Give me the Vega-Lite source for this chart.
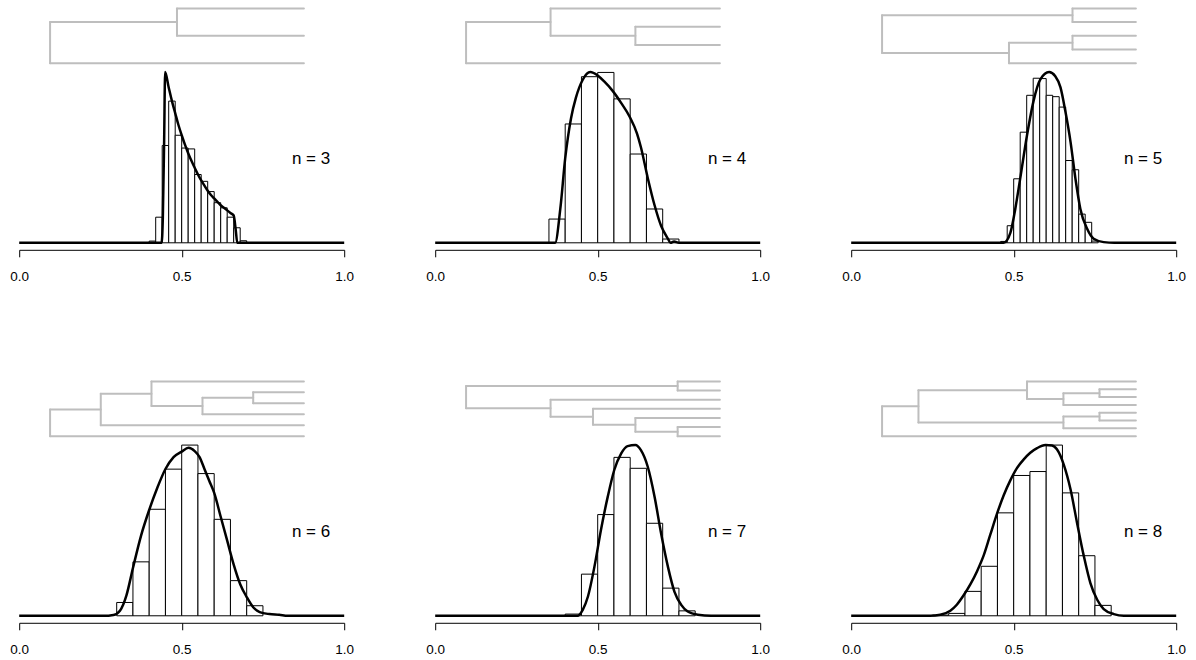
{
"$schema": "https://vega.github.io/schema/vega-lite/v6.json",
"usermeta": {"embedOptions": {"actions": false}},
"padding": {"left": 9.2, "top": 3.8, "right": 5, "bottom": 5},
"background": "white",
"columns": 3,
"spacing": {"row": 134, "column": 91},
"bounds": "flush",
"datasets": {
"bars": [
{"n":3,"x0":0.40,"x1":0.42,"h":0.01},{"n":3,"x0":0.42,"x1":0.44,"h":0.15},{"n":3,"x0":0.44,"x1":0.46,"h":0.57},{"n":3,"x0":0.46,"x1":0.48,"h":0.83},{"n":3,"x0":0.48,"x1":0.50,"h":0.63},{"n":3,"x0":0.50,"x1":0.52,"h":0.555},{"n":3,"x0":0.52,"x1":0.54,"h":0.55},{"n":3,"x0":0.54,"x1":0.56,"h":0.40},{"n":3,"x0":0.56,"x1":0.58,"h":0.36},{"n":3,"x0":0.58,"x1":0.60,"h":0.30},{"n":3,"x0":0.60,"x1":0.62,"h":0.235},{"n":3,"x0":0.62,"x1":0.64,"h":0.205},{"n":3,"x0":0.64,"x1":0.66,"h":0.15},{"n":3,"x0":0.66,"x1":0.68,"h":0.088},{"n":3,"x0":0.68,"x1":0.70,"h":0.012},
{"n":4,"x0":0.35,"x1":0.40,"h":0.139},{"n":4,"x0":0.40,"x1":0.45,"h":0.696},{"n":4,"x0":0.45,"x1":0.50,"h":0.973},{"n":4,"x0":0.50,"x1":0.55,"h":0.998},{"n":4,"x0":0.55,"x1":0.60,"h":0.843},{"n":4,"x0":0.60,"x1":0.65,"h":0.52},{"n":4,"x0":0.65,"x1":0.70,"h":0.198},{"n":4,"x0":0.70,"x1":0.75,"h":0.022},
{"n":5,"x0":0.46,"x1":0.48,"h":0.008},{"n":5,"x0":0.48,"x1":0.50,"h":0.10},{"n":5,"x0":0.50,"x1":0.52,"h":0.375},{"n":5,"x0":0.52,"x1":0.54,"h":0.648},{"n":5,"x0":0.54,"x1":0.56,"h":0.864},{"n":5,"x0":0.56,"x1":0.58,"h":0.964},{"n":5,"x0":0.58,"x1":0.60,"h":0.962},{"n":5,"x0":0.60,"x1":0.62,"h":0.864},{"n":5,"x0":0.62,"x1":0.64,"h":0.856},{"n":5,"x0":0.64,"x1":0.66,"h":0.795},{"n":5,"x0":0.66,"x1":0.68,"h":0.482},{"n":5,"x0":0.68,"x1":0.70,"h":0.428},{"n":5,"x0":0.70,"x1":0.72,"h":0.168},{"n":5,"x0":0.72,"x1":0.74,"h":0.12},{"n":5,"x0":0.74,"x1":0.76,"h":0.01},
{"n":6,"x0":0.30,"x1":0.35,"h":0.078},{"n":6,"x0":0.35,"x1":0.40,"h":0.316},{"n":6,"x0":0.40,"x1":0.45,"h":0.624},{"n":6,"x0":0.45,"x1":0.50,"h":0.859},{"n":6,"x0":0.50,"x1":0.55,"h":1.0},{"n":6,"x0":0.55,"x1":0.60,"h":0.833},{"n":6,"x0":0.60,"x1":0.65,"h":0.565},{"n":6,"x0":0.65,"x1":0.70,"h":0.206},{"n":6,"x0":0.70,"x1":0.75,"h":0.059},
{"n":7,"x0":0.40,"x1":0.45,"h":0.01},{"n":7,"x0":0.45,"x1":0.50,"h":0.244},{"n":7,"x0":0.50,"x1":0.55,"h":0.593},{"n":7,"x0":0.55,"x1":0.60,"h":0.928},{"n":7,"x0":0.60,"x1":0.65,"h":0.864},{"n":7,"x0":0.65,"x1":0.70,"h":0.542},{"n":7,"x0":0.70,"x1":0.75,"h":0.162},{"n":7,"x0":0.75,"x1":0.80,"h":0.029},
{"n":8,"x0":0.25,"x1":0.30,"h":0.004},{"n":8,"x0":0.30,"x1":0.35,"h":0.014},{"n":8,"x0":0.35,"x1":0.40,"h":0.143},{"n":8,"x0":0.40,"x1":0.45,"h":0.29},{"n":8,"x0":0.45,"x1":0.50,"h":0.603},{"n":8,"x0":0.50,"x1":0.55,"h":0.822},{"n":8,"x0":0.55,"x1":0.60,"h":0.845},{"n":8,"x0":0.60,"x1":0.65,"h":1.0},{"n":8,"x0":0.65,"x1":0.70,"h":0.72},{"n":8,"x0":0.70,"x1":0.75,"h":0.352},{"n":8,"x0":0.75,"x1":0.80,"h":0.061}
],
"dens": [
{"n":3,"x":0,"y":0},{"n":3,"x":0.438,"y":0},{"n":3,"x":0.442,"y":0.15},{"n":3,"x":0.446,"y":0.6},{"n":3,"x":0.449,"y":1.0},{"n":3,"x":0.46,"y":0.91},{"n":3,"x":0.47,"y":0.83},{"n":3,"x":0.48,"y":0.76},{"n":3,"x":0.49,"y":0.69},{"n":3,"x":0.50,"y":0.63},{"n":3,"x":0.51,"y":0.575},{"n":3,"x":0.52,"y":0.525},{"n":3,"x":0.53,"y":0.48},{"n":3,"x":0.54,"y":0.44},{"n":3,"x":0.55,"y":0.40},{"n":3,"x":0.56,"y":0.365},{"n":3,"x":0.57,"y":0.335},{"n":3,"x":0.58,"y":0.305},{"n":3,"x":0.59,"y":0.28},{"n":3,"x":0.60,"y":0.26},{"n":3,"x":0.61,"y":0.24},{"n":3,"x":0.62,"y":0.22},{"n":3,"x":0.63,"y":0.205},{"n":3,"x":0.64,"y":0.19},{"n":3,"x":0.65,"y":0.175},{"n":3,"x":0.66,"y":0.16},{"n":3,"x":0.666,"y":0.08},{"n":3,"x":0.671,"y":0},{"n":3,"x":1,"y":0},
{"n":4,"x":0,"y":0},{"n":4,"x":0.369,"y":0},{"n":4,"x":0.385,"y":0.2},{"n":4,"x":0.40,"y":0.494},{"n":4,"x":0.418,"y":0.73},{"n":4,"x":0.433,"y":0.85},{"n":4,"x":0.454,"y":0.955},{"n":4,"x":0.477,"y":1.0},{"n":4,"x":0.50,"y":0.98},{"n":4,"x":0.52,"y":0.945},{"n":4,"x":0.546,"y":0.89},{"n":4,"x":0.572,"y":0.82},{"n":4,"x":0.598,"y":0.74},{"n":4,"x":0.621,"y":0.64},{"n":4,"x":0.633,"y":0.56},{"n":4,"x":0.654,"y":0.38},{"n":4,"x":0.675,"y":0.22},{"n":4,"x":0.695,"y":0.10},{"n":4,"x":0.716,"y":0.024},{"n":4,"x":0.724,"y":0},{"n":4,"x":0.735,"y":0.008},{"n":4,"x":0.75,"y":0},{"n":4,"x":1,"y":0},
{"n":5,"x":0,"y":0},{"n":5,"x":0.469,"y":0},{"n":5,"x":0.49,"y":0.06},{"n":5,"x":0.505,"y":0.2},{"n":5,"x":0.52,"y":0.376},{"n":5,"x":0.541,"y":0.63},{"n":5,"x":0.561,"y":0.83},{"n":5,"x":0.582,"y":0.957},{"n":5,"x":0.609,"y":1.0},{"n":5,"x":0.628,"y":0.976},{"n":5,"x":0.644,"y":0.91},{"n":5,"x":0.659,"y":0.77},{"n":5,"x":0.675,"y":0.59},{"n":5,"x":0.69,"y":0.376},{"n":5,"x":0.705,"y":0.2},{"n":5,"x":0.726,"y":0.082},{"n":5,"x":0.746,"y":0.024},{"n":5,"x":0.777,"y":0.004},{"n":5,"x":0.81,"y":0},{"n":5,"x":1,"y":0},
{"n":6,"x":0,"y":0},{"n":6,"x":0.26,"y":0},{"n":6,"x":0.29,"y":0.005},{"n":6,"x":0.31,"y":0.03},{"n":6,"x":0.33,"y":0.12},{"n":6,"x":0.35,"y":0.28},{"n":6,"x":0.375,"y":0.47},{"n":6,"x":0.40,"y":0.62},{"n":6,"x":0.425,"y":0.75},{"n":6,"x":0.45,"y":0.86},{"n":6,"x":0.475,"y":0.93},{"n":6,"x":0.50,"y":0.962},{"n":6,"x":0.521,"y":0.984},{"n":6,"x":0.54,"y":0.965},{"n":6,"x":0.555,"y":0.93},{"n":6,"x":0.57,"y":0.86},{"n":6,"x":0.585,"y":0.79},{"n":6,"x":0.60,"y":0.72},{"n":6,"x":0.62,"y":0.58},{"n":6,"x":0.64,"y":0.44},{"n":6,"x":0.66,"y":0.30},{"n":6,"x":0.68,"y":0.185},{"n":6,"x":0.70,"y":0.11},{"n":6,"x":0.72,"y":0.05},{"n":6,"x":0.74,"y":0.022},{"n":6,"x":0.77,"y":0.01},{"n":6,"x":0.80,"y":0.006},{"n":6,"x":0.826,"y":0},{"n":6,"x":1,"y":0},
{"n":7,"x":0,"y":0},{"n":7,"x":0.438,"y":0},{"n":7,"x":0.454,"y":0.035},{"n":7,"x":0.47,"y":0.113},{"n":7,"x":0.49,"y":0.288},{"n":7,"x":0.51,"y":0.503},{"n":7,"x":0.531,"y":0.698},{"n":7,"x":0.551,"y":0.854},{"n":7,"x":0.572,"y":0.95},{"n":7,"x":0.592,"y":0.994},{"n":7,"x":0.616,"y":1.0},{"n":7,"x":0.633,"y":0.97},{"n":7,"x":0.654,"y":0.873},{"n":7,"x":0.675,"y":0.698},{"n":7,"x":0.695,"y":0.483},{"n":7,"x":0.716,"y":0.288},{"n":7,"x":0.736,"y":0.142},{"n":7,"x":0.757,"y":0.064},{"n":7,"x":0.777,"y":0.025},{"n":7,"x":0.808,"y":0.006},{"n":7,"x":0.849,"y":0},{"n":7,"x":1,"y":0},
{"n":8,"x":0,"y":0},{"n":8,"x":0.243,"y":0},{"n":8,"x":0.274,"y":0.006},{"n":8,"x":0.305,"y":0.03},{"n":8,"x":0.325,"y":0.065},{"n":8,"x":0.346,"y":0.12},{"n":8,"x":0.367,"y":0.185},{"n":8,"x":0.387,"y":0.26},{"n":8,"x":0.408,"y":0.355},{"n":8,"x":0.428,"y":0.475},{"n":8,"x":0.449,"y":0.6},{"n":8,"x":0.469,"y":0.705},{"n":8,"x":0.49,"y":0.795},{"n":8,"x":0.51,"y":0.865},{"n":8,"x":0.531,"y":0.916},{"n":8,"x":0.551,"y":0.955},{"n":8,"x":0.572,"y":0.982},{"n":8,"x":0.598,"y":1.0},{"n":8,"x":0.618,"y":0.998},{"n":8,"x":0.633,"y":0.975},{"n":8,"x":0.654,"y":0.886},{"n":8,"x":0.675,"y":0.74},{"n":8,"x":0.695,"y":0.544},{"n":8,"x":0.716,"y":0.348},{"n":8,"x":0.736,"y":0.192},{"n":8,"x":0.757,"y":0.094},{"n":8,"x":0.777,"y":0.039},{"n":8,"x":0.808,"y":0.01},{"n":8,"x":0.839,"y":0},{"n":8,"x":1,"y":0}
],
"tree": [
{"n":3,"x":0.4855,"x2":0.4855,"y":1.373,"y2":1.2125},{"n":3,"x":0.4855,"x2":0.876,"y":1.373,"y2":1.373},{"n":3,"x":0.4855,"x2":0.876,"y":1.2125,"y2":1.2125},{"n":3,"x":0.095,"x2":0.095,"y":1.29275,"y2":1.052},{"n":3,"x":0.095,"x2":0.4855,"y":1.29275,"y2":1.29275},{"n":3,"x":0.095,"x2":0.876,"y":1.052,"y2":1.052},
{"n":4,"x":0.616,"x2":0.616,"y":1.266,"y2":1.159},{"n":4,"x":0.616,"x2":0.876,"y":1.266,"y2":1.266},{"n":4,"x":0.616,"x2":0.876,"y":1.159,"y2":1.159},{"n":4,"x":0.355,"x2":0.355,"y":1.373,"y2":1.2125},{"n":4,"x":0.355,"x2":0.876,"y":1.373,"y2":1.373},{"n":4,"x":0.355,"x2":0.616,"y":1.2125,"y2":1.2125},{"n":4,"x":0.095,"x2":0.095,"y":1.29275,"y2":1.052},{"n":4,"x":0.095,"x2":0.355,"y":1.29275,"y2":1.29275},{"n":4,"x":0.095,"x2":0.876,"y":1.052,"y2":1.052},
{"n":5,"x":0.681,"x2":0.681,"y":1.373,"y2":1.293},{"n":5,"x":0.681,"x2":0.876,"y":1.373,"y2":1.373},{"n":5,"x":0.681,"x2":0.876,"y":1.293,"y2":1.293},{"n":5,"x":0.681,"x2":0.681,"y":1.2125,"y2":1.132},{"n":5,"x":0.681,"x2":0.876,"y":1.2125,"y2":1.2125},{"n":5,"x":0.681,"x2":0.876,"y":1.132,"y2":1.132},{"n":5,"x":0.4855,"x2":0.4855,"y":1.17225,"y2":1.052},{"n":5,"x":0.4855,"x2":0.681,"y":1.17225,"y2":1.17225},{"n":5,"x":0.4855,"x2":0.876,"y":1.052,"y2":1.052},{"n":5,"x":0.095,"x2":0.095,"y":1.333,"y2":1.1121},{"n":5,"x":0.095,"x2":0.681,"y":1.333,"y2":1.333},{"n":5,"x":0.095,"x2":0.4855,"y":1.1121,"y2":1.1121},
{"n":6,"x":0.72,"x2":0.72,"y":1.309,"y2":1.245},{"n":6,"x":0.72,"x2":0.876,"y":1.309,"y2":1.309},{"n":6,"x":0.72,"x2":0.876,"y":1.245,"y2":1.245},{"n":6,"x":0.564,"x2":0.564,"y":1.277,"y2":1.18},{"n":6,"x":0.564,"x2":0.72,"y":1.277,"y2":1.277},{"n":6,"x":0.564,"x2":0.876,"y":1.18,"y2":1.18},{"n":6,"x":0.407,"x2":0.407,"y":1.373,"y2":1.2285},{"n":6,"x":0.407,"x2":0.876,"y":1.373,"y2":1.373},{"n":6,"x":0.407,"x2":0.564,"y":1.2285,"y2":1.2285},{"n":6,"x":0.251,"x2":0.251,"y":1.30075,"y2":1.116},{"n":6,"x":0.251,"x2":0.407,"y":1.30075,"y2":1.30075},{"n":6,"x":0.251,"x2":0.876,"y":1.116,"y2":1.116},{"n":6,"x":0.095,"x2":0.095,"y":1.20838,"y2":1.052},{"n":6,"x":0.095,"x2":0.251,"y":1.20838,"y2":1.20838},{"n":6,"x":0.095,"x2":0.876,"y":1.052,"y2":1.052},
{"n":7,"x":0.746,"x2":0.746,"y":1.373,"y2":1.3195},{"n":7,"x":0.746,"x2":0.876,"y":1.373,"y2":1.373},{"n":7,"x":0.746,"x2":0.876,"y":1.3195,"y2":1.3195},{"n":7,"x":0.746,"x2":0.746,"y":1.1055,"y2":1.052},{"n":7,"x":0.746,"x2":0.876,"y":1.1055,"y2":1.1055},{"n":7,"x":0.746,"x2":0.876,"y":1.052,"y2":1.052},{"n":7,"x":0.616,"x2":0.616,"y":1.159,"y2":1.07875},{"n":7,"x":0.616,"x2":0.876,"y":1.159,"y2":1.159},{"n":7,"x":0.616,"x2":0.746,"y":1.07875,"y2":1.07875},{"n":7,"x":0.4855,"x2":0.4855,"y":1.2125,"y2":1.11888},{"n":7,"x":0.4855,"x2":0.876,"y":1.2125,"y2":1.2125},{"n":7,"x":0.4855,"x2":0.616,"y":1.11888,"y2":1.11888},{"n":7,"x":0.355,"x2":0.355,"y":1.266,"y2":1.16569},{"n":7,"x":0.355,"x2":0.876,"y":1.266,"y2":1.266},{"n":7,"x":0.355,"x2":0.4855,"y":1.16569,"y2":1.16569},{"n":7,"x":0.095,"x2":0.095,"y":1.34625,"y2":1.21585},{"n":7,"x":0.095,"x2":0.746,"y":1.34625,"y2":1.34625},{"n":7,"x":0.095,"x2":0.355,"y":1.21585,"y2":1.21585},
{"n":8,"x":0.764,"x2":0.764,"y":1.327,"y2":1.281},{"n":8,"x":0.764,"x2":0.876,"y":1.327,"y2":1.327},{"n":8,"x":0.764,"x2":0.876,"y":1.281,"y2":1.281},{"n":8,"x":0.764,"x2":0.764,"y":1.19,"y2":1.144},{"n":8,"x":0.764,"x2":0.876,"y":1.19,"y2":1.19},{"n":8,"x":0.764,"x2":0.876,"y":1.144,"y2":1.144},{"n":8,"x":0.653,"x2":0.653,"y":1.304,"y2":1.235},{"n":8,"x":0.653,"x2":0.764,"y":1.304,"y2":1.304},{"n":8,"x":0.653,"x2":0.876,"y":1.235,"y2":1.235},{"n":8,"x":0.653,"x2":0.653,"y":1.167,"y2":1.098},{"n":8,"x":0.653,"x2":0.764,"y":1.167,"y2":1.167},{"n":8,"x":0.653,"x2":0.876,"y":1.098,"y2":1.098},{"n":8,"x":0.541,"x2":0.541,"y":1.373,"y2":1.2695},{"n":8,"x":0.541,"x2":0.876,"y":1.373,"y2":1.373},{"n":8,"x":0.541,"x2":0.653,"y":1.2695,"y2":1.2695},{"n":8,"x":0.207,"x2":0.207,"y":1.32125,"y2":1.1325},{"n":8,"x":0.207,"x2":0.541,"y":1.32125,"y2":1.32125},{"n":8,"x":0.207,"x2":0.653,"y":1.1325,"y2":1.1325},{"n":8,"x":0.095,"x2":0.095,"y":1.22688,"y2":1.052},{"n":8,"x":0.095,"x2":0.207,"y":1.22688,"y2":1.22688},{"n":8,"x":0.095,"x2":0.876,"y":1.052,"y2":1.052}
],
"labels": [
{"n":3,"label":"n = 3","x":0.898,"y":0.49},{"n":4,"label":"n = 4","x":0.898,"y":0.49},{"n":5,"label":"n = 5","x":0.898,"y":0.49},{"n":6,"label":"n = 6","x":0.898,"y":0.49},{"n":7,"label":"n = 7","x":0.898,"y":0.49},{"n":8,"label":"n = 8","x":0.898,"y":0.49}
]
},
"concat": [
{"width":325,"height":239,"layer":[
{"data":{"name":"tree"},"transform":[{"filter":"datum.n == 3"}],"mark":{"type":"rule","color":"#bebebe","strokeWidth":2,"strokeCap":"round"},"encoding":{"x":{"field":"x","type":"quantitative","title":null,"scale":{"domain":[0,1],"nice":false,"zero":false},"axis":{"values":[0,0.5,1],"format":".1f","title":null}},"x2":{"field":"x2"},"y":{"field":"y","type":"quantitative","axis":null,"scale":{"domain":[0,1.4],"nice":false}},"y2":{"field":"y2"}}},
{"data":{"name":"bars"},"transform":[{"filter":"datum.n == 3"}],"mark":{"type":"rect","fill":"white","stroke":"black","strokeWidth":1},"encoding":{"x":{"field":"x0","type":"quantitative","title":null,"scale":{"domain":[0,1],"nice":false,"zero":false},"axis":{"values":[0,0.5,1],"format":".1f","title":null}},"x2":{"field":"x1"},"y":{"field":"h","type":"quantitative","axis":null,"scale":{"domain":[0,1.4],"nice":false}},"y2":{"datum":0}}},
{"data":{"name":"dens"},"transform":[{"filter":"datum.n == 3"}],"mark":{"type":"line","color":"black","strokeWidth":2.5,"interpolate":"monotone"},"encoding":{"x":{"field":"x","type":"quantitative","title":null,"scale":{"domain":[0,1],"nice":false,"zero":false},"axis":{"values":[0,0.5,1],"format":".1f","title":null}},"y":{"field":"y","type":"quantitative","axis":null,"scale":{"domain":[0,1.4],"nice":false}}}},
{"data":{"name":"labels"},"transform":[{"filter":"datum.n == 3"}],"mark":{"type":"text","font":"Liberation Sans","fontSize":17,"align":"center","baseline":"middle","color":"black"},"encoding":{"x":{"field":"x","type":"quantitative","title":null,"scale":{"domain":[0,1],"nice":false,"zero":false},"axis":{"values":[0,0.5,1],"format":".1f","title":null}},"y":{"field":"y","type":"quantitative","axis":null,"scale":{"domain":[0,1.4],"nice":false}},"text":{"field":"label"}}}
]},
{"width":325,"height":239,"layer":[
{"data":{"name":"tree"},"transform":[{"filter":"datum.n == 4"}],"mark":{"type":"rule","color":"#bebebe","strokeWidth":2,"strokeCap":"round"},"encoding":{"x":{"field":"x","type":"quantitative","title":null,"scale":{"domain":[0,1],"nice":false,"zero":false},"axis":{"values":[0,0.5,1],"format":".1f","title":null}},"x2":{"field":"x2"},"y":{"field":"y","type":"quantitative","axis":null,"scale":{"domain":[0,1.4],"nice":false}},"y2":{"field":"y2"}}},
{"data":{"name":"bars"},"transform":[{"filter":"datum.n == 4"}],"mark":{"type":"rect","fill":"white","stroke":"black","strokeWidth":1},"encoding":{"x":{"field":"x0","type":"quantitative","title":null,"scale":{"domain":[0,1],"nice":false,"zero":false},"axis":{"values":[0,0.5,1],"format":".1f","title":null}},"x2":{"field":"x1"},"y":{"field":"h","type":"quantitative","axis":null,"scale":{"domain":[0,1.4],"nice":false}},"y2":{"datum":0}}},
{"data":{"name":"dens"},"transform":[{"filter":"datum.n == 4"}],"mark":{"type":"line","color":"black","strokeWidth":2.5,"interpolate":"monotone"},"encoding":{"x":{"field":"x","type":"quantitative","title":null,"scale":{"domain":[0,1],"nice":false,"zero":false},"axis":{"values":[0,0.5,1],"format":".1f","title":null}},"y":{"field":"y","type":"quantitative","axis":null,"scale":{"domain":[0,1.4],"nice":false}}}},
{"data":{"name":"labels"},"transform":[{"filter":"datum.n == 4"}],"mark":{"type":"text","font":"Liberation Sans","fontSize":17,"align":"center","baseline":"middle","color":"black"},"encoding":{"x":{"field":"x","type":"quantitative","title":null,"scale":{"domain":[0,1],"nice":false,"zero":false},"axis":{"values":[0,0.5,1],"format":".1f","title":null}},"y":{"field":"y","type":"quantitative","axis":null,"scale":{"domain":[0,1.4],"nice":false}},"text":{"field":"label"}}}
]},
{"width":325,"height":239,"layer":[
{"data":{"name":"tree"},"transform":[{"filter":"datum.n == 5"}],"mark":{"type":"rule","color":"#bebebe","strokeWidth":2,"strokeCap":"round"},"encoding":{"x":{"field":"x","type":"quantitative","title":null,"scale":{"domain":[0,1],"nice":false,"zero":false},"axis":{"values":[0,0.5,1],"format":".1f","title":null}},"x2":{"field":"x2"},"y":{"field":"y","type":"quantitative","axis":null,"scale":{"domain":[0,1.4],"nice":false}},"y2":{"field":"y2"}}},
{"data":{"name":"bars"},"transform":[{"filter":"datum.n == 5"}],"mark":{"type":"rect","fill":"white","stroke":"black","strokeWidth":1},"encoding":{"x":{"field":"x0","type":"quantitative","title":null,"scale":{"domain":[0,1],"nice":false,"zero":false},"axis":{"values":[0,0.5,1],"format":".1f","title":null}},"x2":{"field":"x1"},"y":{"field":"h","type":"quantitative","axis":null,"scale":{"domain":[0,1.4],"nice":false}},"y2":{"datum":0}}},
{"data":{"name":"dens"},"transform":[{"filter":"datum.n == 5"}],"mark":{"type":"line","color":"black","strokeWidth":2.5,"interpolate":"monotone"},"encoding":{"x":{"field":"x","type":"quantitative","title":null,"scale":{"domain":[0,1],"nice":false,"zero":false},"axis":{"values":[0,0.5,1],"format":".1f","title":null}},"y":{"field":"y","type":"quantitative","axis":null,"scale":{"domain":[0,1.4],"nice":false}}}},
{"data":{"name":"labels"},"transform":[{"filter":"datum.n == 5"}],"mark":{"type":"text","font":"Liberation Sans","fontSize":17,"align":"center","baseline":"middle","color":"black"},"encoding":{"x":{"field":"x","type":"quantitative","title":null,"scale":{"domain":[0,1],"nice":false,"zero":false},"axis":{"values":[0,0.5,1],"format":".1f","title":null}},"y":{"field":"y","type":"quantitative","axis":null,"scale":{"domain":[0,1.4],"nice":false}},"text":{"field":"label"}}}
]},
{"width":325,"height":239,"layer":[
{"data":{"name":"tree"},"transform":[{"filter":"datum.n == 6"}],"mark":{"type":"rule","color":"#bebebe","strokeWidth":2,"strokeCap":"round"},"encoding":{"x":{"field":"x","type":"quantitative","title":null,"scale":{"domain":[0,1],"nice":false,"zero":false},"axis":{"values":[0,0.5,1],"format":".1f","title":null}},"x2":{"field":"x2"},"y":{"field":"y","type":"quantitative","axis":null,"scale":{"domain":[0,1.4],"nice":false}},"y2":{"field":"y2"}}},
{"data":{"name":"bars"},"transform":[{"filter":"datum.n == 6"}],"mark":{"type":"rect","fill":"white","stroke":"black","strokeWidth":1},"encoding":{"x":{"field":"x0","type":"quantitative","title":null,"scale":{"domain":[0,1],"nice":false,"zero":false},"axis":{"values":[0,0.5,1],"format":".1f","title":null}},"x2":{"field":"x1"},"y":{"field":"h","type":"quantitative","axis":null,"scale":{"domain":[0,1.4],"nice":false}},"y2":{"datum":0}}},
{"data":{"name":"dens"},"transform":[{"filter":"datum.n == 6"}],"mark":{"type":"line","color":"black","strokeWidth":2.5,"interpolate":"monotone"},"encoding":{"x":{"field":"x","type":"quantitative","title":null,"scale":{"domain":[0,1],"nice":false,"zero":false},"axis":{"values":[0,0.5,1],"format":".1f","title":null}},"y":{"field":"y","type":"quantitative","axis":null,"scale":{"domain":[0,1.4],"nice":false}}}},
{"data":{"name":"labels"},"transform":[{"filter":"datum.n == 6"}],"mark":{"type":"text","font":"Liberation Sans","fontSize":17,"align":"center","baseline":"middle","color":"black"},"encoding":{"x":{"field":"x","type":"quantitative","title":null,"scale":{"domain":[0,1],"nice":false,"zero":false},"axis":{"values":[0,0.5,1],"format":".1f","title":null}},"y":{"field":"y","type":"quantitative","axis":null,"scale":{"domain":[0,1.4],"nice":false}},"text":{"field":"label"}}}
]},
{"width":325,"height":239,"layer":[
{"data":{"name":"tree"},"transform":[{"filter":"datum.n == 7"}],"mark":{"type":"rule","color":"#bebebe","strokeWidth":2,"strokeCap":"round"},"encoding":{"x":{"field":"x","type":"quantitative","title":null,"scale":{"domain":[0,1],"nice":false,"zero":false},"axis":{"values":[0,0.5,1],"format":".1f","title":null}},"x2":{"field":"x2"},"y":{"field":"y","type":"quantitative","axis":null,"scale":{"domain":[0,1.4],"nice":false}},"y2":{"field":"y2"}}},
{"data":{"name":"bars"},"transform":[{"filter":"datum.n == 7"}],"mark":{"type":"rect","fill":"white","stroke":"black","strokeWidth":1},"encoding":{"x":{"field":"x0","type":"quantitative","title":null,"scale":{"domain":[0,1],"nice":false,"zero":false},"axis":{"values":[0,0.5,1],"format":".1f","title":null}},"x2":{"field":"x1"},"y":{"field":"h","type":"quantitative","axis":null,"scale":{"domain":[0,1.4],"nice":false}},"y2":{"datum":0}}},
{"data":{"name":"dens"},"transform":[{"filter":"datum.n == 7"}],"mark":{"type":"line","color":"black","strokeWidth":2.5,"interpolate":"monotone"},"encoding":{"x":{"field":"x","type":"quantitative","title":null,"scale":{"domain":[0,1],"nice":false,"zero":false},"axis":{"values":[0,0.5,1],"format":".1f","title":null}},"y":{"field":"y","type":"quantitative","axis":null,"scale":{"domain":[0,1.4],"nice":false}}}},
{"data":{"name":"labels"},"transform":[{"filter":"datum.n == 7"}],"mark":{"type":"text","font":"Liberation Sans","fontSize":17,"align":"center","baseline":"middle","color":"black"},"encoding":{"x":{"field":"x","type":"quantitative","title":null,"scale":{"domain":[0,1],"nice":false,"zero":false},"axis":{"values":[0,0.5,1],"format":".1f","title":null}},"y":{"field":"y","type":"quantitative","axis":null,"scale":{"domain":[0,1.4],"nice":false}},"text":{"field":"label"}}}
]},
{"width":325,"height":239,"layer":[
{"data":{"name":"tree"},"transform":[{"filter":"datum.n == 8"}],"mark":{"type":"rule","color":"#bebebe","strokeWidth":2,"strokeCap":"round"},"encoding":{"x":{"field":"x","type":"quantitative","title":null,"scale":{"domain":[0,1],"nice":false,"zero":false},"axis":{"values":[0,0.5,1],"format":".1f","title":null}},"x2":{"field":"x2"},"y":{"field":"y","type":"quantitative","axis":null,"scale":{"domain":[0,1.4],"nice":false}},"y2":{"field":"y2"}}},
{"data":{"name":"bars"},"transform":[{"filter":"datum.n == 8"}],"mark":{"type":"rect","fill":"white","stroke":"black","strokeWidth":1},"encoding":{"x":{"field":"x0","type":"quantitative","title":null,"scale":{"domain":[0,1],"nice":false,"zero":false},"axis":{"values":[0,0.5,1],"format":".1f","title":null}},"x2":{"field":"x1"},"y":{"field":"h","type":"quantitative","axis":null,"scale":{"domain":[0,1.4],"nice":false}},"y2":{"datum":0}}},
{"data":{"name":"dens"},"transform":[{"filter":"datum.n == 8"}],"mark":{"type":"line","color":"black","strokeWidth":2.5,"interpolate":"monotone"},"encoding":{"x":{"field":"x","type":"quantitative","title":null,"scale":{"domain":[0,1],"nice":false,"zero":false},"axis":{"values":[0,0.5,1],"format":".1f","title":null}},"y":{"field":"y","type":"quantitative","axis":null,"scale":{"domain":[0,1.4],"nice":false}}}},
{"data":{"name":"labels"},"transform":[{"filter":"datum.n == 8"}],"mark":{"type":"text","font":"Liberation Sans","fontSize":17,"align":"center","baseline":"middle","color":"black"},"encoding":{"x":{"field":"x","type":"quantitative","title":null,"scale":{"domain":[0,1],"nice":false,"zero":false},"axis":{"values":[0,0.5,1],"format":".1f","title":null}},"y":{"field":"y","type":"quantitative","axis":null,"scale":{"domain":[0,1.4],"nice":false}},"text":{"field":"label"}}}
]}
],
"config": {
"view": {"stroke": null},
"axisX": {"grid": false, "domainColor": "black", "domainWidth": 1, "tickColor": "black", "tickWidth": 1, "tickSize": 7, "labelFont": "Liberation Sans", "labelFontSize": 13.5, "labelColor": "black", "labelPadding": 13, "offset": 7, "labelFlush": false, "labelOverlap": false}
}
}
